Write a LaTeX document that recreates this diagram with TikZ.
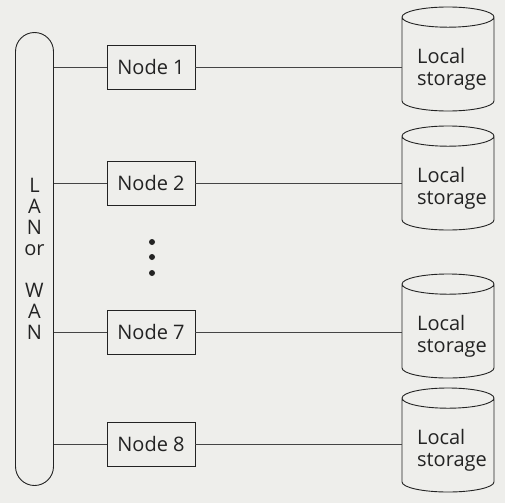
\documentclass[tikz,border=0pt]{standalone}
\usepackage{fontspec}
\setmainfont{Open Sans}
\usetikzlibrary{shapes.geometric}

\definecolor{paper}{RGB}{238,238,235}
\definecolor{ink}{RGB}{35,35,35}

\tikzset{
  nodebox/.style={draw=ink, line width=0.9pt, minimum width=88pt, minimum height=44pt,
    inner sep=0pt, text=ink, font=\fontsize{20}{22}\selectfont},
  storage/.style={draw=ink, line width=0.9pt, shape=cylinder, shape border rotate=90,
    aspect=0.26, minimum width=92pt, minimum height=104pt, inner sep=0pt,
    anchor=shape center, align=left, text=ink, font=\fontsize{20}{22}\selectfont},
  lanbar/.style={draw=ink, line width=0.9pt, rounded corners=19pt, minimum width=38pt,
    minimum height=453pt, inner sep=0pt, align=center, text=ink,
    font=\fontsize{20}{21}\selectfont},
  link/.style={draw=ink!85, line width=0.8pt}
}
\newcommand{\storetext}{\rule{0pt}{4pt}\\\hspace*{8pt}Local\\\hspace*{8pt}storage}

\begin{document}
\begin{tikzpicture}[x=1pt,y=-1pt]
  \fill[paper] (0,0) rectangle (505,503);
  \useasboundingbox (0,0) rectangle (505,503);

  % network bar
  \node[lanbar] (lan) at (34.5,259) {L\\A\\N\\or\\[21pt]W\\A\\N};

  % nodes
  \node[nodebox] (n1) at (151,67) {Node 1};
  \node[nodebox] (n2) at (151,183) {Node 2};
  \node[nodebox] (n7) at (151,332) {Node 7};
  \node[nodebox] (n8) at (151,444) {Node 8};

  % storage
  \node[storage] (s1) at (448,59) {\storetext};
  \node[storage] (s2) at (448,178) {\storetext};
  \node[storage] (s3) at (448,326) {\storetext};
  \node[storage] (s4) at (448,440) {\storetext};

  % dots between node 2 and node 7
  \foreach \y in {242,257,273}
    \fill[ink] (152,\y) circle (3pt);

  % links
  \foreach \n/\s in {n1/s1,n2/s2,n7/s3,n8/s4}{
    \draw[link] (\n.west) -- (\n.west -| lan.east);
    \draw[link] (\n.east) -- (\n.east -| \s.west);
  }
\end{tikzpicture}
\end{document}
